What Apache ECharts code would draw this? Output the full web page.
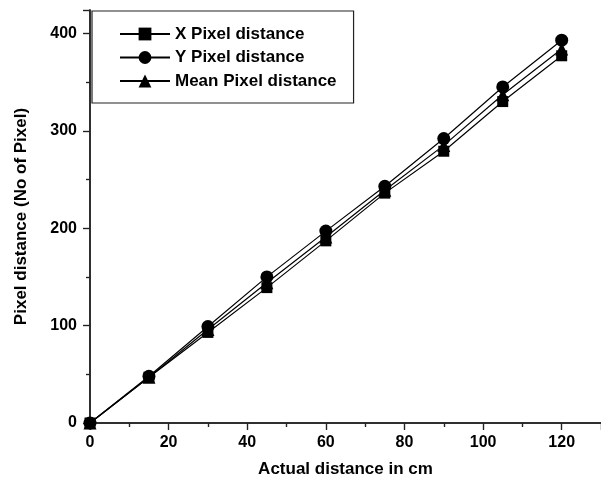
<!DOCTYPE html>
<html>
<head>
<meta charset="utf-8">
<script src="https://cdn.jsdelivr.net/npm/echarts@6/dist/echarts.min.js"></script>
<style>
html,body{margin:0;padding:0;background:#fff;}
#container{width:601px;height:495px;}
</style>
</head>
<body>
<div id="container"></div>
<script>
var distanceCm=[0,15,30,45,60,75,90,105,120];
var xPixel=[0,47,93,139,187,236,279,330,377];
var yPixel=[0,48,99,150,197,243,292,345,393];
var meanPixel=[0,47,96,144,191,239,285,337,384];
var seriesNames=['X Pixel distance','Y Pixel distance','Mean Pixel distance'];

function pairs(xs,ys){
	var out=[];
	for(var i=0;i<xs.length;i++){
		out.push([xs[i],ys[i]]);
	}
	return out;
}

var myChart=echarts.init(document.getElementById('container'));
var font='"Liberation Sans", Arial, sans-serif';
var lineCol='#222';

function lineSeries(name,symbol,data,size){
	return {
		name:name,
		type:'line',
		symbol:symbol,
		symbolSize:size,
		data:data,
		lineStyle:{color:'#000',width:1.2},
		itemStyle:{color:'#000'},
		emphasis:{disabled:true},
		z:3
	};
}

var option={
	animation:false,
	backgroundColor:'#fff',
	textStyle:{fontFamily:font},
	grid:{left:90,top:10,right:-3,bottom:72},
	legend:{
		orient:'vertical',
		left:92,
		top:11,
		padding:[13,17,12,27],
		itemWidth:50,
		itemHeight:16,
		itemGap:3.5,
		backgroundColor:'#fff',
		borderColor:'#222',
		borderWidth:1.2,
		borderRadius:0,
		textStyle:{fontSize:17,fontWeight:'bold',color:'#000',fontFamily:font,lineHeight:20},
		data:seriesNames
	},
	xAxis:[{
		type:'value',
		min:0,max:130,interval:20,
		position:'bottom',
		name:'Actual distance in cm',
		nameLocation:'middle',
		nameGap:38,
		nameTextStyle:{fontSize:17,fontWeight:'bold',color:'#000'},
		axisLine:{onZero:false,lineStyle:{color:lineCol,width:1.5}},
		axisTick:{inside:false,length:7,lineStyle:{color:lineCol,width:1.2}},
		minorTick:{show:true,splitNumber:2,length:4,lineStyle:{color:lineCol,width:1.2}},
		axisLabel:{fontSize:16,fontWeight:'bold',color:'#000',margin:12,showMaxLabel:false},
		splitLine:{show:false}
	},{
		type:'value',
		min:0,max:130,interval:20,
		position:'top',
		axisLine:{lineStyle:{color:lineCol,width:1.5}},
		axisTick:{inside:true,length:7,lineStyle:{color:lineCol,width:1.2}},
		minorTick:{show:true,splitNumber:2,length:4,lineStyle:{color:lineCol,width:1.2}},
		axisLabel:{show:false},
		splitLine:{show:false}
	}],
	yAxis:[{
		type:'value',
		min:0,max:424,interval:100,
		position:'left',
		name:'Pixel distance (No of Pixel)',
		nameLocation:'middle',
		nameGap:60,
		nameTextStyle:{fontSize:17,fontWeight:'bold',color:'#000'},
		axisLine:{onZero:false,lineStyle:{color:lineCol,width:1.5}},
		axisTick:{inside:false,length:7,lineStyle:{color:lineCol,width:1.2}},
		minorTick:{show:true,splitNumber:2,length:4,lineStyle:{color:lineCol,width:1.2}},
		axisLabel:{fontSize:16,fontWeight:'bold',color:'#000',margin:13,showMaxLabel:false},
		splitLine:{show:false}
	},{
		type:'value',
		min:0,max:424,interval:100,
		position:'right',
		axisLine:{lineStyle:{color:lineCol,width:1.5}},
		axisTick:{inside:true,length:7,lineStyle:{color:lineCol,width:1.2}},
		minorTick:{show:true,splitNumber:2,length:4,lineStyle:{color:lineCol,width:1.2}},
		axisLabel:{show:false},
		splitLine:{show:false}
	}],
	series:[
		lineSeries(seriesNames[0],'rect',pairs(distanceCm,xPixel),11),
		lineSeries(seriesNames[1],'circle',pairs(distanceCm,yPixel),13),
		lineSeries(seriesNames[2],'triangle',pairs(distanceCm,meanPixel),13)
	]
};
myChart.setOption(option,true);
</script>
</body>
</html>
